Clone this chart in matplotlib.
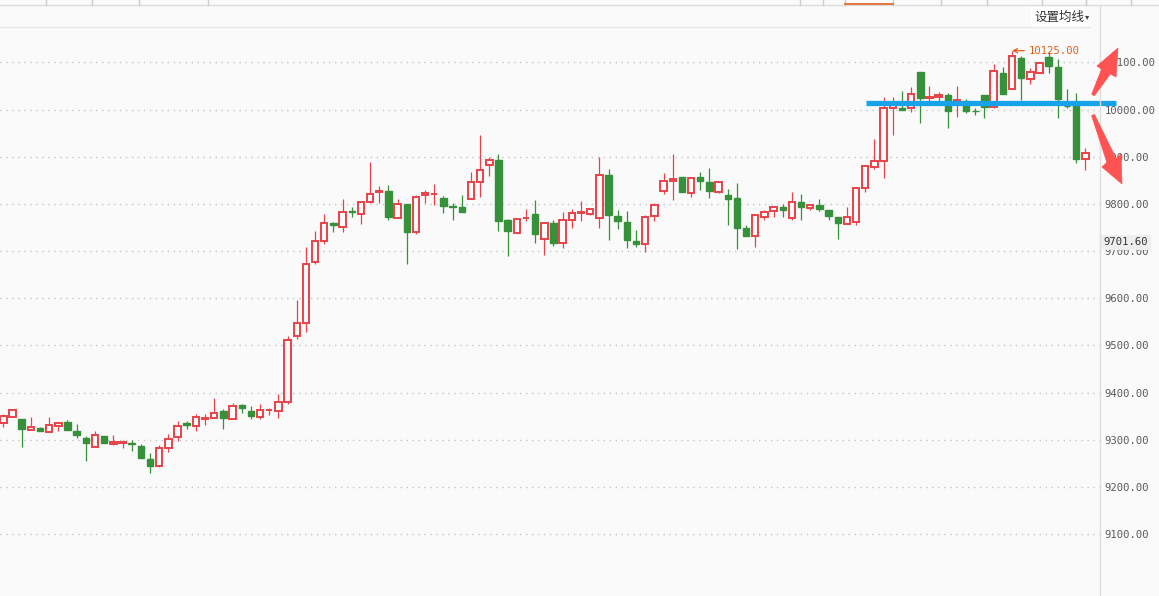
import matplotlib
matplotlib.use("Agg")
import matplotlib.pyplot as plt
from matplotlib.patches import Polygon
from matplotlib.lines import Line2D
from matplotlib.transforms import IdentityTransform

# 日K 数据 (从图上读出来的近似值)
opens = [9335, 9348, 9345, 9321, 9326, 9316, 9330, 9337, 9319, 9304,
         9284, 9309, 9292, 9293, 9294, 9286, 9260, 9244, 9283, 9306,
         9335, 9330, 9344, 9346, 9360, 9344, 9373, 9360, 9348, 9363,
         9361, 9381, 9519, 9547, 9677, 9721, 9760, 9751, 9785, 9779,
         9804, 9826, 9828, 9770, 9800, 9740, 9819, 9821, 9813, 9795,
         9794, 9811, 9847, 9882, 9894, 9765, 9738, 9770, 9779, 9726,
         9760, 9717, 9766, 9781, 9779, 9770, 9862, 9775, 9762, 9722,
         9715, 9775, 9828, 9849, 9857, 9823, 9857, 9847, 9826, 9818,
         9813, 9749, 9732, 9773, 9784, 9794, 9770, 9804, 9792, 9798,
         9787, 9772, 9757, 9761, 9834, 9879, 9892, 10004, 10004, 10004,
         10079, 10025, 10027, 10030, 10017, 10018, 9998, 10032, 10006, 10077,
         10044, 10110, 10065, 10078, 10111, 10090, 10008, 10008, 9896]
highs = [9355, 9364, 9345, 9348, 9328, 9348, 9336, 9343, 9333, 9307,
         9318, 9309, 9311, 9300, 9299, 9292, 9273, 9288, 9313, 9339,
         9339, 9354, 9355, 9388, 9366, 9377, 9375, 9371, 9375, 9367,
         9398, 9520, 9597, 9709, 9742, 9779, 9762, 9811, 9794, 9804,
         9888, 9839, 9841, 9811, 9800, 9820, 9830, 9843, 9816, 9803,
         9820, 9867, 9947, 9900, 9905, 9769, 9768, 9790, 9809, 9760,
         9765, 9782, 9790, 9807, 9792, 9899, 9875, 9788, 9786, 9745,
         9777, 9802, 9865, 9906, 9857, 9857, 9867, 9877, 9849, 9831,
         9845, 9756, 9777, 9787, 9796, 9799, 9826, 9822, 9798, 9811,
         9787, 9772, 9794, 9834, 9880, 9938, 10027, 10027, 10039, 10047,
         10079, 10051, 10038, 10035, 10049, 10023, 10004, 10032, 10097, 10090,
         10125, 10114, 10089, 10099, 10123, 10108, 10044, 10035, 9918]
lows = [9328, 9348, 9284, 9320, 9318, 9316, 9318, 9320, 9304, 9255,
        9284, 9293, 9290, 9282, 9277, 9261, 9229, 9242, 9274, 9297,
        9323, 9318, 9331, 9346, 9322, 9344, 9357, 9345, 9344, 9352,
        9346, 9375, 9513, 9528, 9672, 9715, 9740, 9740, 9772, 9757,
        9801, 9801, 9767, 9770, 9672, 9736, 9801, 9797, 9780, 9767,
        9782, 9811, 9814, 9859, 9742, 9689, 9738, 9763, 9718, 9691,
        9710, 9706, 9748, 9763, 9776, 9748, 9723, 9746, 9706, 9709,
        9698, 9763, 9821, 9808, 9825, 9815, 9829, 9812, 9823, 9755,
        9704, 9731, 9708, 9765, 9772, 9772, 9767, 9767, 9787, 9786,
        9765, 9725, 9757, 9755, 9825, 9875, 9855, 9946, 9999, 9995,
        9972, 10016, 10016, 9961, 9984, 9993, 9989, 9982, 10003, 10033,
        10044, 10020, 10054, 10078, 10078, 9982, 10004, 9886, 9873]
closes = [9350, 9364, 9322, 9328, 9318, 9332, 9336, 9320, 9311, 9293,
          9311, 9293, 9295, 9295, 9292, 9261, 9244, 9283, 9302, 9330,
          9331, 9349, 9347, 9357, 9346, 9372, 9367, 9350, 9364, 9364,
          9381, 9511, 9547, 9672, 9721, 9760, 9755, 9783, 9783, 9804,
          9821, 9828, 9772, 9800, 9740, 9815, 9823, 9822, 9795, 9793,
          9782, 9847, 9872, 9894, 9763, 9742, 9768, 9771, 9736, 9760,
          9718, 9766, 9781, 9782, 9789, 9862, 9776, 9763, 9723, 9716,
          9772, 9798, 9849, 9853, 9825, 9855, 9848, 9827, 9847, 9810,
          9750, 9733, 9777, 9783, 9793, 9787, 9804, 9793, 9798, 9789,
          9774, 9759, 9772, 9834, 9880, 9892, 10003, 10009, 10000, 10034,
          10024, 10027, 10030, 9998, 10020, 9997, 9996, 10006, 10082, 10033,
          10113, 10067, 10080, 10098, 10092, 10023, 10007, 9896, 9909]

yticks = [9100, 9200, 9300, 9400, 9500, 9600, 9700, 9800, 9900, 10000, 10100]
ytick_labels = ["%.2f" % v for v in yticks]
max_price = 10125.00
last_price = 9701.60
level = 10015

UP = "#e8434a"
DOWN = "#37903a"
BG = "#fafafa"
MONO = "DejaVu Sans Mono"

W, H = 1159, 596
fig = plt.figure(figsize=(W / 100, H / 100), dpi=100, facecolor=BG)
ax = fig.add_axes([0, 0, 1100 / W, (H - 28) / H], facecolor=BG)

x = list(range(len(opens)))
for i in x:
    o, h, l, c = opens[i], highs[i], lows[i], closes[i]
    col = UP if c >= o else DOWN
    ax.vlines(i, l, h, color=col, linewidth=0.9, zorder=2)
    if c >= o:
        ax.bar(i, c - o, bottom=o, width=0.7, facecolor=BG, edgecolor=col,
               linewidth=1.4, zorder=3)
    else:
        ax.bar(i, o - c, bottom=c, width=0.7, facecolor=col, edgecolor=col,
               linewidth=1.0, zorder=3)

px = 9.17  # 每根K线的像素宽度
ax.set_xlim(-3.3 / px, (1100 - 3.3) / px)
ax.set_ylim(10000 - (H - 109.6) / 0.4717, 10000 + (109.6 - 28) / 0.4717)

ax.set_yticks(yticks)
ax.set_yticklabels(ytick_labels, family=MONO, fontsize=7.6, color="#5a5a5a")
ax.yaxis.tick_right()
ax.tick_params(axis="y", length=0, pad=3.5)
ax.set_xticks([])
ax.yaxis.grid(True, linestyle=(0, (1, 3.3)), color="#c4c4c4", linewidth=1)
for s in ax.spines.values():
    s.set_visible(False)

# 最高价标注
imax = highs.index(max(highs))
ax.annotate("%.2f" % max_price, xy=(imax, max_price), xytext=(imax + 1.8, max_price),
            va="center", ha="left", family=MONO, fontsize=7.6, color="#e0601a",
            arrowprops=dict(arrowstyle="->", color="#e0601a", lw=0.9, shrinkA=1, shrinkB=0))

# 最新价
ax.text(1.0035, last_price + 17, "%.2f" % last_price, transform=ax.get_yaxis_transform(),
        ha="left", va="center", family=MONO, fontsize=7.6, color="#333333",
        bbox=dict(boxstyle="square,pad=0.25", facecolor="#eeeeee", edgecolor="none"),
        clip_on=False, zorder=5)

# 蓝色水平线
ax.plot([(866 - 3.3) / px, (1116 - 3.3) / px], [level, level], color="#16a3ea",
        linewidth=3.8, solid_capstyle="butt", clip_on=False, zorder=6)

# 顶部栏
fig.add_artist(Line2D([0, 1], [1 - 5 / H, 1 - 5 / H], color="#dddddd", linewidth=1))
fig.add_artist(Line2D([0, 1090 / W], [1 - 27 / H, 1 - 27 / H], color="#e6e6e6", linewidth=1))
fig.add_artist(Line2D([1100 / W, 1100 / W], [0, 1 - 5 / H], color="#dddddd", linewidth=1))
for tx in [46, 92, 139, 208, 800, 823, 845, 893, 941, 987, 1042, 1086, 1131]:
    fig.add_artist(Line2D([tx / W, tx / W], [1, 1 - 5 / H], color="#cccccc", linewidth=1))
fig.add_artist(Line2D([845 / W, 893 / W], [1 - 4 / H, 1 - 4 / H], color="#e0601a", linewidth=1.2))
fig.text(1034 / W, 1 - 17 / H, "设置均线", ha="left", va="center", fontsize=9,
         color="#333333", family=["Noto Sans CJK SC", "DejaVu Sans"],
         bbox=dict(boxstyle="square,pad=0.25", facecolor="white", edgecolor="none"))
fig.text(1087 / W, 1 - 17 / H, "▾", ha="center", va="center", fontsize=6, color="#444444")

# 红色箭头 (像素坐标, y 从上往下)
arrows = [
    [(1091.7, 94.3), (1101.6, 69.1), (1097, 66), (1118, 48), (1116, 77), (1110.4, 73.9), (1094.3, 95.7)],
    [(1091.6, 115.6), (1106.9, 162.4), (1102, 167), (1122, 184), (1121, 154), (1116.1, 158.6), (1094.4, 114.4)],
]
for pts in arrows:
    fig.add_artist(Polygon([(a, H - b) for a, b in pts], closed=True, facecolor="#ff5252",
                           edgecolor="#ff5252", linewidth=0.5, transform=IdentityTransform(),
                           zorder=10))

fig.savefig("out.png", dpi=100, facecolor=BG)
